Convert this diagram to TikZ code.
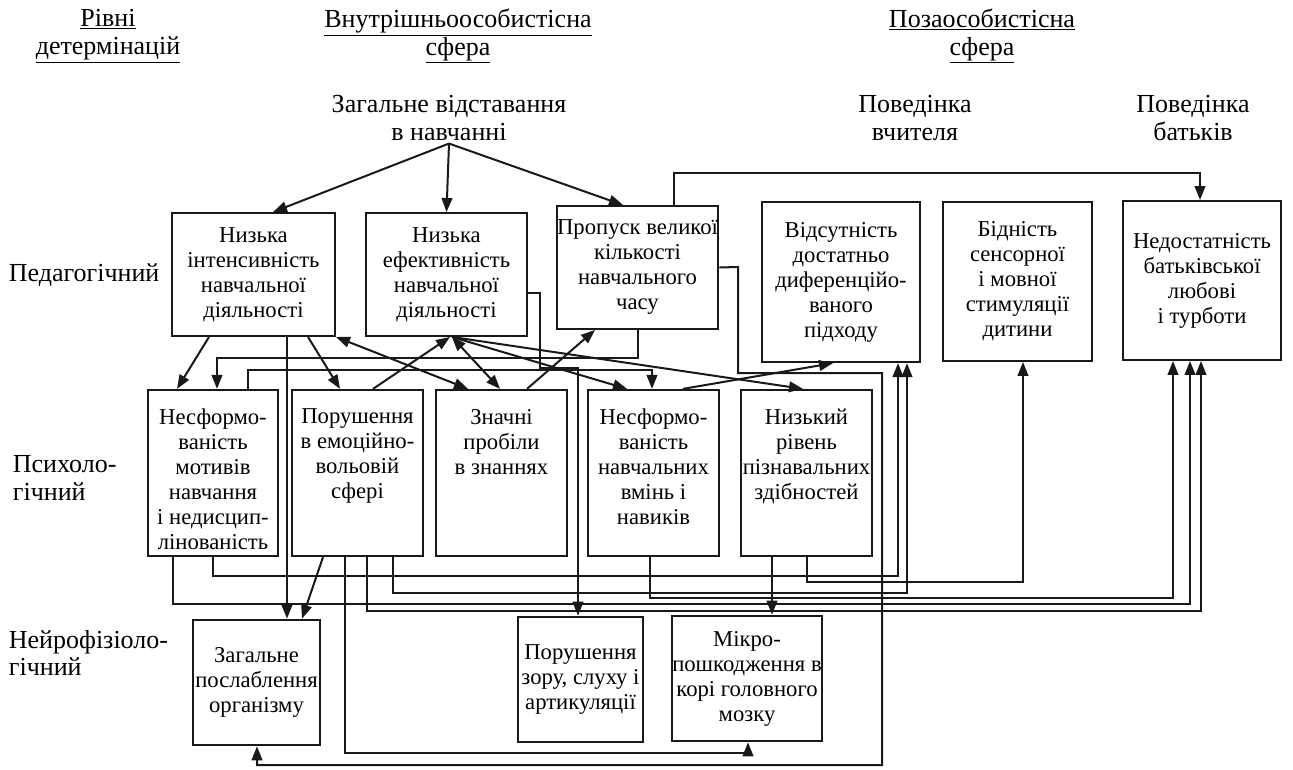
\documentclass[tikz,border=0pt]{standalone}
\usepackage{fontspec}
\setmainfont{Liberation Serif}
\usepackage{tikz}
\usetikzlibrary{shapes, arrows, arrows.meta, positioning}
\newcommand{\vgori}[1]{\parbox[c][96pt][t]{98pt}{\centering #1}}
\tikzstyle{blok} = [draw=black!90, line width=1.7pt, rectangle, align=center, inner sep=0pt, font=\fontsize{17}{18.75}\selectfont]
\tikzstyle{napys} = [align=center, inner sep=2pt, font=\fontsize{19.5}{20.8}\selectfont]
\tikzstyle{riven} = [napys, align=left, anchor=west]
\tikzstyle{liniya} = [draw=black!90, line width=1.5pt]
\tikzstyle{zvjazok} = [liniya, -{Triangle[length=10.5pt,width=8pt]}]
\tikzstyle{dvobik} = [liniya, {Triangle[length=10.5pt,width=8pt]}-{Triangle[length=10.5pt,width=8pt]}]

\begin{document}
\begin{tikzpicture}[x=0.75pt, y=-0.75pt]
	\useasboundingbox (0,0) rectangle (1293,769);
	\node[napys] (rivni) at (108,36) {\underline{Рівні}\\\underline{детермінацій}};
	\node[napys] (vnutr) at (458,36) {\underline{Внутрішньоособистісна}\\\underline{сфера}};
	\node[napys] (poza) at (982,36) {\underline{Позаособистісна}\\\underline{сфера}};
	\node[napys] (zagal) at (449,118) {Загальне відставання\\в навчанні};
	\node[napys] (vchyt) at (915,118) {Поведінка\\вчителя};
	\node[napys] (batk) at (1193,118) {Поведінка\\батьків};
	\node[riven] (ped) at (6,275) {Педагогічний};
	\node[riven] (psy) at (10,478) {Психоло-\\гічний};
	\node[riven] (neyro) at (6,653) {Нейрофізіоло-\\гічний};

	\node[blok, minimum width=122pt, minimum height=92pt] (a1) at (253.5,274.5) {Низька\\інтенсивність\\навчальної\\діяльності};
	\node[blok, minimum width=121pt, minimum height=92pt] (a2) at (446.5,274.5) {Низька\\ефективність\\навчальної\\діяльності};
	\node[blok, minimum width=121pt, minimum height=92pt] (a3) at (637.5,267.5) {Пропуск великої\\кількості\\навчального\\часу};
	\node[blok, minimum width=118.5pt, minimum height=120pt] (b1) at (841,282) {Відсутність\\достатньо\\диференційо-\\ваного\\підходу};
	\node[blok, minimum width=112pt, minimum height=119pt] (b2) at (1017.5,281.5) {Бідність\\сенсорної\\і мовної\\стимуляції\\дитини};
	\node[blok, minimum width=118.5pt, minimum height=119pt] (b3) at (1202,280.5) {Недостатність\\батьківської\\любові\\і турботи};

	\node[blok, minimum width=97.5pt, minimum height=124.5pt] (c1) at (213,473) {\vgori{Несформо-\\ваність\\мотивів\\навчання\\і недисцип-\\лінованість}};
	\node[blok, minimum width=98pt, minimum height=124.5pt] (c2) at (357.5,473) {\vgori{Порушення\\в емоційно-\\вольовій\\сфері}};
	\node[blok, minimum width=98pt, minimum height=124.5pt] (c3) at (501.5,473) {\vgori{Значні\\пробіли\\в знаннях}};
	\node[blok, minimum width=98pt, minimum height=124.5pt] (c4) at (653.5,473) {\vgori{Несформо-\\ваність\\навчальних\\вмінь і\\навиків}};
	\node[blok, minimum width=98pt, minimum height=124.5pt] (c5) at (806.5,473) {\vgori{Низький\\рівень\\пізнавальних\\здібностей}};

	\node[blok, minimum width=95pt, minimum height=94pt] (d1) at (256.5,682.5) {Загальне\\послаблення\\організму};
	\node[blok, minimum width=94pt, minimum height=94pt] (d2) at (580.5,679.5) {Порушення\\зору, слуху і\\артикуляції};
	\node[blok, minimum width=112.5pt, minimum height=94pt] (d3) at (747,678.5) {Мікро-\\пошкодження в\\корі головного\\мозку};

	\draw[zvjazok] (zagal.south) -- (a1.north -| 273,0);
	\draw[zvjazok] (zagal.south) -- (a2.north);
	\draw[zvjazok] (zagal.south) -- (a3.north -| 623,0);

	\draw[zvjazok] (a3.north -| 674,0) |- (1200,173) -- (b3.north -| 1200,0);
	\draw[zvjazok] (a3.east) -- (738,267) |- (882,373) |- (257,765) -- (d1.south -| 257,0);
	\draw[zvjazok] (a3.south -| 638,0) |- (217,358) -- (c1.north -| 217,0);
	\draw[zvjazok] (a2.east |- 0,293) -| (540,368) -| (d2.north -| 578,0);
	\draw[zvjazok] (c1.north -| 248,0) |- (652,370) -- (c4.north -| 652,0);

	\draw[zvjazok] (a1.south -| 209,0) -- (c1.north -| 177,0);
	\draw[zvjazok] (a1.south -| 308,0) -- (c2.north -| 340,0);
	\draw[dvobik] (a1.south east) -- (c3.north -| 468,0);
	\draw[zvjazok] (a1.south -| 287,0) -- (d1.north -| 287,0);
	\draw[dvobik] (a2.south -| 452,0) -- (c3.north -| 500,0);
	\draw[zvjazok] (a2.south -| 452,0) -- (c4.north -| 627,0);
	\draw[zvjazok] (a2.south -| 452,0) -- (c5.north -| 803,0);
	\draw[zvjazok] (c2.north -| 373,0) -- (a2.south -| 450,0);
	\draw[zvjazok] (c3.north -| 527,0) -- (a3.south -| 595,0);
	\draw[zvjazok] (c4.north -| 683,0) -- (b1.south -| 833,0);

	\draw[zvjazok] (c1.south -| 213,0) |- (898,576) -- (b1.south -| 898,0);
	\draw[zvjazok] (c2.south -| 393,0) |- (907,593) -- (b1.south -| 907,0);
	\draw[zvjazok] (c5.south -| 807,0) |- (1023,582) -- (b2.south -| 1023,0);
	\draw[zvjazok] (c4.south -| 650,0) |- (1173,598) -- (b3.south -| 1173,0);
	\draw[zvjazok] (c1.south -| 173,0) |- (1190,604) -- (b3.south -| 1190,0);
	\draw[zvjazok] (c2.south -| 367,0) |- (1201,611) -- (b3.south -| 1201,0);

	\draw[zvjazok] (c2.south -| 323,0) -- (d1.north -| 302,0);
	\draw[zvjazok] (c2.south -| 345,0) |- (748,753) -- (d3.south -| 748,0);
	\draw[zvjazok] (c5.south -| 772,0) -- (d3.north -| 772,0);
\end{tikzpicture}
\end{document}
